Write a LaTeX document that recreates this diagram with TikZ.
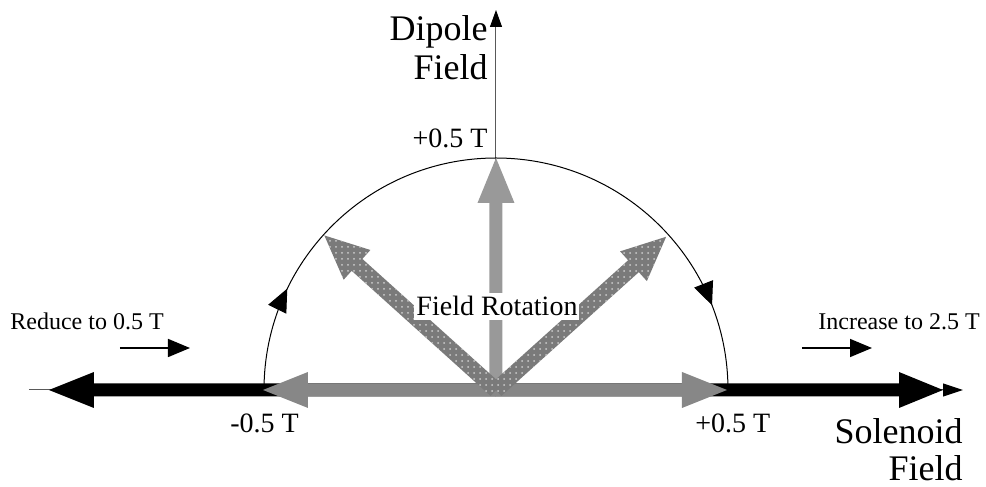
\documentclass[tikz,border=0pt]{standalone}
\usepackage{fontspec}
\setmainfont{Liberation Serif}
\usetikzlibrary{arrows.meta,patterns,decorations.markings}
\definecolor{flatgray}{gray}{0.53}
\definecolor{upgray}{gray}{0.6}
\definecolor{dotgray}{gray}{0.48}
% fat arrow: style, angle, length, shaft half width, head half width, head length
\newcommand{\fatarrow}[6]{%
  \path[#1,rotate=#2] (0,-#4) -- ({#3-#6},-#4) -- ({#3-#6},-#5) -- (#3,0)
    -- ({#3-#6},#5) -- ({#3-#6},#4) -- (0,#4) -- cycle;}
\begin{document}
\begin{tikzpicture}[x=0.5pt,y=0.5pt,
    axis/.style={line width=0.5pt,black!65},
    dotarrow/.style={preaction={fill=dotgray},pattern=dots,pattern color=white!80!black},
    lbl/.style={inner sep=0pt,font=\fontsize{14}{16}\selectfont},
    small/.style={inner sep=0pt,font=\fontsize{12}{14}\selectfont},
    big/.style={inner sep=0pt,align=right,font=\fontsize{18}{19.5}\selectfont}]
    \useasboundingbox (-496,-97) rectangle (490,390);
    \coordinate (O) at (0,0);
    \coordinate (xl) at (-467,0); \coordinate (xr) at (467,0); \coordinate (yt) at (0,380);
    \draw[axis,-{Triangle[length=10pt,width=6.5pt,color=black]}] (xl) -- (xr);
    \draw[axis,-{Triangle[length=8.5pt,width=6pt,color=black]}] (O) -- (yt);
    % solenoid field
    \fatarrow{fill=black}{0}{447}{6.5}{18}{44}
    \fatarrow{fill=black}{180}{447}{6.5}{18}{45}
    % rotation path
    \draw[line width=0.5pt,postaction={decorate},decoration={markings,
        mark=at position 0.144 with {\arrow{Triangle[length=11.5pt,width=10pt]}},
        mark=at position 0.881 with {\arrow{Triangle[length=11.5pt,width=10pt]}}}]
        (-232,0) arc[start angle=180,end angle=0,radius=232];
    \fatarrow{fill=flatgray}{180}{233}{6.5}{18}{45}
    \fatarrow{fill=flatgray}{0}{231}{6.5}{18}{45}
    \fatarrow{fill=upgray}{90}{232}{6.5}{18.5}{45}
    \fatarrow{dotarrow}{138}{231}{8}{20}{44}
    \fatarrow{dotarrow}{42}{229}{8}{20}{44}
    % labels
    \node[big,anchor=north east] (dipole) at (-8,374.6) {Dipole\\Field};
    \node[lbl,anchor=base east] (topval) at (-8,242) {+0.5 T};
    \node[lbl,fill=white,inner xsep=1pt,inner ysep=2pt,anchor=base] (rot) at (1,74) {Field Rotation};
    \node[small,anchor=base west] (reduce) at (-486,60) {Reduce to 0.5 T};
    \node[small,anchor=base west] (increase) at (322,60) {Increase to 2.5 T};
    \node[lbl,anchor=base west] (minval) at (-266,-43) {-0.5 T};
    \node[lbl,anchor=base west] (maxval) at (199,-43) {+0.5 T};
    \node[big,anchor=north east,font=\fontsize{18}{18.5}\selectfont] (solenoid) at (467,-28.6) {Solenoid\\Field};
    \coordinate (r1) at (-376,42); \coordinate (r2) at (-306,42);
    \coordinate (i1) at (306,42); \coordinate (i2) at (376,42);
    \draw[line width=0.8pt,-{Triangle[length=11pt,width=9pt]}] (r1) -- (r2);
    \draw[line width=0.8pt,-{Triangle[length=11pt,width=9pt]}] (i1) -- (i2);
\end{tikzpicture}
\end{document}
